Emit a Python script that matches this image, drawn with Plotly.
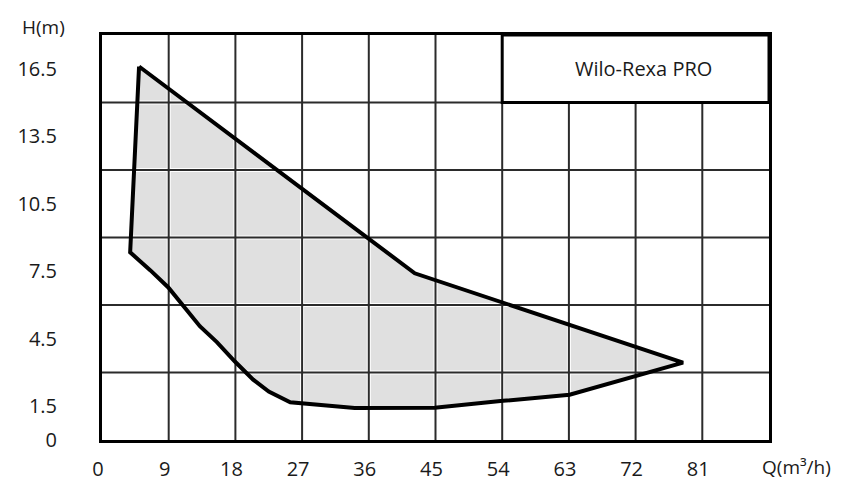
import plotly.graph_objects as go

# Operating-range envelope of Wilo-Rexa PRO (Q in m3/h, H in m), traced clockwise
env_q = [5.0, 42.2, 78.4, 63.1, 54.1, 44.9, 34.1, 25.4, 22.5, 20.4, 17.9, 15.5, 13.2, 11.0, 8.95, 6.5, 3.8, 5.0]
env_h = [16.6, 7.41, 3.44, 2.01, 1.74, 1.43, 1.42, 1.68, 2.15, 2.68, 3.50, 4.35, 5.06, 5.95, 6.78, 7.55, 8.34, 16.6]

x_grid = [9, 18, 27, 36, 45, 54, 63, 72, 81]
y_grid = [3, 6, 9, 12, 15]
x_ticks = [0, 9, 18, 27, 36, 45, 54, 63, 72, 81]
y_ticks = [0, 1.5, 4.5, 7.5, 10.5, 13.5, 16.5]
x_max, y_max = 90, 18
title_text = "Wilo-Rexa PRO"

FONT = "Open Sans"
TXT = "#1a1a1a"

fig = go.Figure()

# filled envelope
fig.add_trace(go.Scatter(x=env_q, y=env_h, mode="lines", fill="toself",
                         fillcolor="#e0e0e0", line=dict(width=0),
                         hoverinfo="skip", showlegend=False))

# grid lines (above the fill, with white halo)
gx, gy = [], []
for v in x_grid:
    gx += [v, v, None]
    gy += [0, y_max, None]
for v in y_grid:
    gx += [0, x_max, None]
    gy += [v, v, None]
fig.add_trace(go.Scatter(x=gx, y=gy, mode="lines", line=dict(color="white", width=4),
                         hoverinfo="skip", showlegend=False))
fig.add_trace(go.Scatter(x=gx, y=gy, mode="lines", line=dict(color="#2b2b2b", width=2),
                         hoverinfo="skip", showlegend=False))

# envelope outline
fig.add_trace(go.Scatter(x=env_q, y=env_h, mode="lines",
                         line=dict(color="black", width=4),
                         hoverinfo="skip", showlegend=False))

# title box
fig.add_shape(type="rect", x0=54, x1=x_max, y0=15, y1=y_max, xref="x", yref="y",
              fillcolor="white", line=dict(color="black", width=3), layer="above")
fig.add_annotation(x=73, y=16.5, xref="x", yref="y", text=title_text, showarrow=False,
                   font=dict(family=FONT, size=20, color=TXT))

# axis titles
fig.add_annotation(x=-0.088, y=1.02, xref="paper", yref="paper", text="H(m)",
                   showarrow=False, xanchor="center", yanchor="middle",
                   font=dict(family=FONT, size=19, color=TXT))
fig.add_annotation(x=1.0405, y=-0.0667, xref="paper", yref="paper", text="Q(m³/h)",
                   showarrow=False, xanchor="center", yanchor="middle",
                   font=dict(family=FONT, size=19, color=TXT))

fig.update_xaxes(range=[0, x_max], showgrid=False, zeroline=False,
                 showline=True, mirror=True, linecolor="black", linewidth=3,
                 tickmode="array", tickvals=x_ticks, ticktext=[str(v) for v in x_ticks],
                 ticks="", ticklabelstandoff=9, ticklabelshift=-4,
                 tickfont=dict(family=FONT, size=20, color=TXT))
fig.update_yaxes(range=[0, y_max], showgrid=False, zeroline=False,
                 showline=True, mirror=True, linecolor="black", linewidth=3,
                 tickmode="array", tickvals=y_ticks,
                 ticktext=[("%g" % v) for v in y_ticks],
                 ticks="", ticklabelstandoff=38,
                 tickfont=dict(family=FONT, size=20, color=TXT))

fig.update_layout(width=848, height=500, margin=dict(l=102, r=79, t=35, b=60),
                  plot_bgcolor="white", paper_bgcolor="white")

fig.write_html("out.html")
